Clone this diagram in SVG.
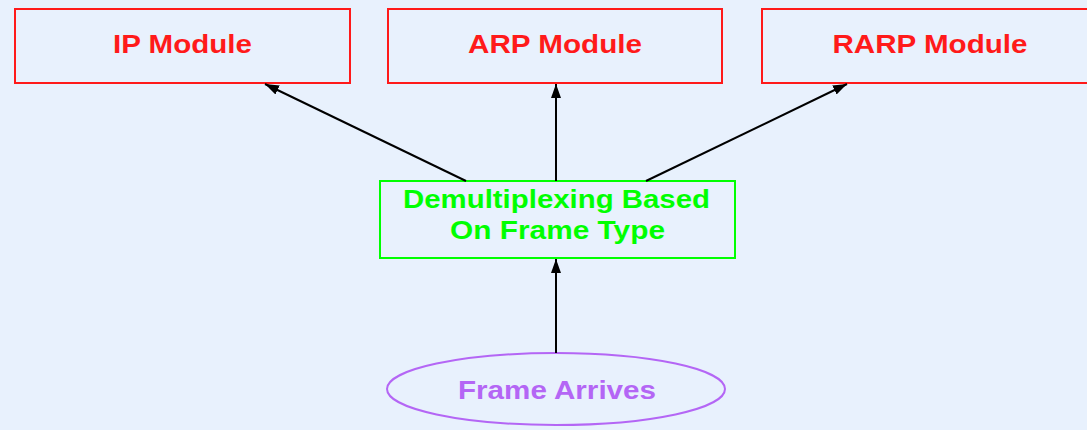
<svg xmlns="http://www.w3.org/2000/svg" width="1087" height="430" viewBox="0 0 1087 430">
<defs>
<marker id="ah" markerWidth="16" markerHeight="12" refX="14" refY="6" orient="auto" markerUnits="userSpaceOnUse">
<path d="M0,1 L14,6 L0,11 Z" fill="#000"/>
</marker>
<style>
.mod rect{fill:none;stroke:#ff1a1a;stroke-width:2}
.mod text{fill:#ff1a1a}
text{font-family:"Liberation Sans",Arial,sans-serif;font-weight:bold;font-size:25px;text-anchor:middle}
.edge{stroke:#000;stroke-width:2;fill:none;marker-end:url(#ah)}
</style>
</defs>
<rect x="0" y="0" width="1087" height="430" fill="#e8f1fd"/>
<g id="ip" class="mod">
<rect x="15" y="9" width="335" height="74"/>
<text x="182.5" y="53" textLength="139" lengthAdjust="spacingAndGlyphs">IP Module</text>
</g>
<g id="arp" class="mod">
<rect x="388" y="9" width="334" height="74"/>
<text x="555" y="53" textLength="174" lengthAdjust="spacingAndGlyphs">ARP Module</text>
</g>
<g id="rarp" class="mod">
<rect x="762" y="9" width="340" height="74"/>
<text x="930" y="53" textLength="195" lengthAdjust="spacingAndGlyphs">RARP Module</text>
</g>
<g id="demux">
<rect x="380" y="181" width="355" height="77" fill="none" stroke="#00ff00" stroke-width="2"/>
<text x="556.5" y="208" fill="#00ff00" textLength="307" lengthAdjust="spacingAndGlyphs">Demultiplexing Based</text>
<text x="557.5" y="239" fill="#00ff00" textLength="215" lengthAdjust="spacingAndGlyphs">On Frame Type</text>
</g>
<g id="frame">
<ellipse cx="556" cy="389" rx="169" ry="36" fill="none" stroke="#b466f5" stroke-width="2"/>
<text x="557" y="399" fill="#b466f5" textLength="198" lengthAdjust="spacingAndGlyphs">Frame Arrives</text>
</g>
<g id="connectors">
<line class="edge" x1="466" y1="181" x2="265" y2="84"/>
<line class="edge" x1="556" y1="181" x2="556" y2="84"/>
<line class="edge" x1="646" y1="181" x2="847" y2="84"/>
<line class="edge" x1="556" y1="353" x2="556" y2="259"/>
</g>
</svg>
